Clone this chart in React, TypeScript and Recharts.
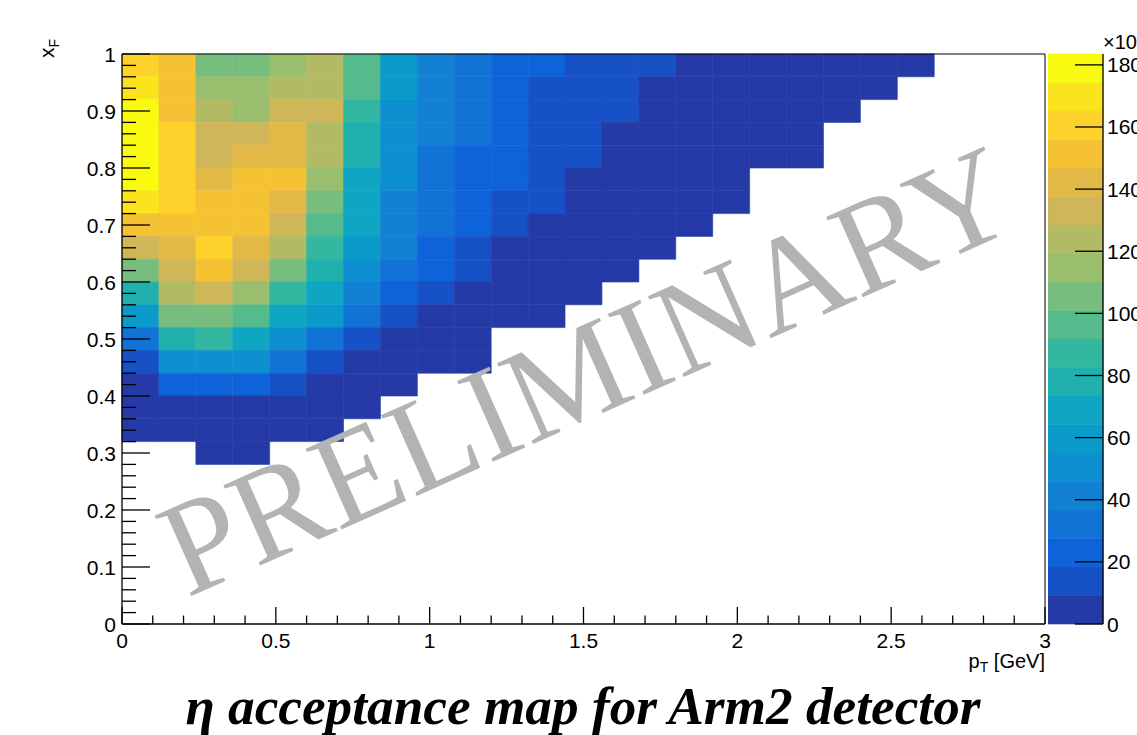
import React from 'react';
import { ComposedChart, XAxis, YAxis, ReferenceArea, ReferenceLine } from 'recharts';

// ---------- binning (pT 0..3 GeV in 25 bins, xF 0..1 in 25 bins) ----------
const ptBinLow = [0, 0.12, 0.24, 0.36, 0.48, 0.6, 0.72, 0.84, 0.96, 1.08, 1.2, 1.32, 1.44, 1.56, 1.68, 1.8, 1.92, 2.04, 2.16, 2.28, 2.4, 2.52, 2.64, 2.76, 2.88];
const PT_BIN_WIDTH = 0.12;
const XF_BIN_WIDTH = 0.04;

// ---------- cell contents (x10^3), one array per xF bin, index = pT bin ----------
const xf096 = [161, 151, 106, 106, 115, 124, 96, 60, 41, 32, 23, 23, 14, 14, 14, 8, 7, 6, 5, 4, 3, 2];
const xf092 = [170, 151, 115, 115, 124, 124, 96, 60, 41, 32, 23, 14, 14, 14, 8, 7, 6, 5, 4, 3, 2];
const xf088 = [180, 151, 124, 115, 133, 133, 87, 50, 41, 32, 23, 14, 14, 14, 8, 7, 6, 5, 4, 2];
const xf084 = [183.5, 161, 133, 133, 142, 124, 78, 50, 41, 32, 23, 14, 14, 8, 7, 6, 5, 4, 2];
const xf080 = [179, 161, 133, 142, 142, 124, 78, 50, 32, 23, 23, 14, 14, 8, 7, 6, 5, 3, 2];
const xf076 = [179, 161, 142, 151, 151, 115, 69, 50, 32, 23, 23, 14, 8, 7, 6, 4, 2];
const xf072 = [170, 161, 151, 151, 142, 106, 69, 41, 32, 23, 14, 14, 8, 7, 5, 4, 2];
const xf068 = [151, 151, 151, 151, 133, 96, 69, 41, 32, 23, 14, 8, 7, 6, 4, 2];
const xf064 = [133, 142, 161, 142, 124, 87, 60, 41, 23, 14, 8, 7, 6, 4, 2];
const xf060 = [106, 133, 151, 133, 106, 78, 50, 32, 23, 14, 8, 6, 4, 2];
const xf056 = [78, 124, 133, 115, 87, 69, 41, 23, 14, 8, 6, 4, 2];
const xf052 = [60, 106, 106, 96, 69, 60, 32, 14, 8, 6, 4, 2];
const xf048 = [32, 78, 87, 69, 50, 32, 14, 8, 5, 3];
const xf044 = [14, 50, 50, 50, 32, 14, 8, 6, 4, 2];
const xf040 = [8, 23, 23, 23, 14, 7, 5, 3];
const xf036 = [6, 8, 8, 8, 7, 5, 3];
const xf032 = [3, 5, 6, 6, 4, 2];
const xf028 = [null, null, 2, 2];

const xfRows: { xf: number; values: (number | null)[] }[] = [
  { xf: 0.96, values: xf096 }, { xf: 0.92, values: xf092 }, { xf: 0.88, values: xf088 },
  { xf: 0.84, values: xf084 }, { xf: 0.8, values: xf080 }, { xf: 0.76, values: xf076 },
  { xf: 0.72, values: xf072 }, { xf: 0.68, values: xf068 }, { xf: 0.64, values: xf064 },
  { xf: 0.6, values: xf060 }, { xf: 0.56, values: xf056 }, { xf: 0.52, values: xf052 },
  { xf: 0.48, values: xf048 }, { xf: 0.44, values: xf044 }, { xf: 0.4, values: xf040 },
  { xf: 0.36, values: xf036 }, { xf: 0.32, values: xf032 }, { xf: 0.28, values: xf028 },
];

// ---------- colour scale ----------
const Z_MAX = 183.5;
const N_LEVELS = 20;
const palette = [
  '#253aa6', '#1651c6', '#0f63d9', '#1273d6', '#1381d3', '#0e8fd0', '#0a9bcb', '#0ea6c3', '#20b0ae', '#33b7a0',
  '#55bb8c', '#77bd7e', '#98be6e', '#b3ba64', '#cfb759', '#e2b947', '#f5c233', '#fdd22a', '#fbe31e', '#f8fa0f',
];
const colorTicks = [0, 20, 40, 60, 80, 100, 120, 140, 160, 180];

// ---------- axis ticks ----------
const xMajorTicks = [0, 0.5, 1, 1.5, 2, 2.5, 3];
const yMajorTicks = [0, 0.1, 0.2, 0.3, 0.4, 0.5, 0.6, 0.7, 0.8, 0.9, 1];
const xAllTicks = Array.from({ length: 31 }, (_, i) => i / 10);
const yAllTicks = Array.from({ length: 51 }, (_, i) => i / 50);

const FONT = '"Liberation Sans", Arial, Helvetica, sans-serif';
const LABEL_SIZE = 21;

const levelOf = (v: number) => Math.min(N_LEVELS - 1, Math.floor((v / Z_MAX) * N_LEVELS));
const isMajor = (v: number, list: number[]) => list.some((m) => Math.abs(m - v) < 1e-9);

const cells: { x1: number; x2: number; y1: number; y2: number; v: number }[] = [];
xfRows.forEach((row) => {
  row.values.forEach((v, i) => {
    if (v == null) return;
    cells.push({ x1: ptBinLow[i], x2: ptBinLow[i] + PT_BIN_WIDTH, y1: row.xf, y2: row.xf + XF_BIN_WIDTH, v });
  });
});

const XTick = (props: any) => {
  const { x, y, payload } = props;
  const v = payload.value as number;
  const major = isMajor(v, xMajorTicks);
  return (
    <g>
      <line x1={x} x2={x} y1={y} y2={y - (major ? 17 : 8.5)} stroke="#000" strokeWidth={1.3} />
      {major && (
        <text x={x} y={y + 24} textAnchor="middle" fontSize={LABEL_SIZE} fontFamily={FONT} fill="#000">
          {String(v)}
        </text>
      )}
    </g>
  );
};

const YTick = (props: any) => {
  const { x, y, payload } = props;
  const v = payload.value as number;
  const major = isMajor(v, yMajorTicks);
  return (
    <g>
      <line x1={x} x2={x + (major ? 28 : 14)} y1={y} y2={y} stroke="#000" strokeWidth={1.3} />
      {major && (
        <text x={x - 6} y={y + 7.5} textAnchor="end" fontSize={LABEL_SIZE} fontFamily={FONT} fill="#000">
          {String(v)}
        </text>
      )}
    </g>
  );
};

const ZTick = (props: any) => {
  const { x, y, payload } = props;
  const v = payload.value as number;
  return (
    <g>
      <line x1={x - 28} x2={x} y1={y} y2={y} stroke="#000" strokeWidth={1.3} />
      <text x={x + 4} y={y + 7.5} textAnchor="start" fontSize={LABEL_SIZE} fontFamily={FONT} fill="#000">
        {String(v)}
      </text>
    </g>
  );
};

const levels = Array.from({ length: N_LEVELS }, (_, i) => i);

export default function App() {
  return (
    <div style={{ position: 'absolute', left: 0, top: 0, width: 1137, height: 735, overflow: 'hidden', background: '#fff' }}>
      <div style={{ position: 'absolute', left: 0, top: 0 }}>
        <ComposedChart width={1137} height={735} margin={{ top: 54, right: 92, bottom: 0, left: 0 }} data={[]}>
          <XAxis
            type="number"
            dataKey="x"
            domain={[0, 3]}
            allowDataOverflow
            ticks={xAllTicks}
            interval={0}
            tickSize={0}
            tickMargin={0}
            height={111}
            tick={<XTick />}
            axisLine={{ stroke: '#000', strokeWidth: 1.3 }}
            tickLine={false}
          />
          <YAxis
            type="number"
            dataKey="y"
            domain={[0, 1]}
            allowDataOverflow
            ticks={yAllTicks}
            interval={0}
            tickSize={0}
            tickMargin={0}
            width={122}
            tick={<YTick />}
            axisLine={{ stroke: '#000', strokeWidth: 1.3 }}
            tickLine={false}
          />
          {cells.map((c, i) => (
            <ReferenceArea
              key={i}
              x1={c.x1}
              x2={c.x2}
              y1={c.y1}
              y2={c.y2}
              fill={palette[levelOf(c.v)]}
              fillOpacity={1}
              stroke={palette[levelOf(c.v)]}
              strokeWidth={0.6}
              ifOverflow="visible"
            />
          ))}
          <ReferenceLine y={1} stroke="#000" strokeWidth={1} ifOverflow="visible" />
          <ReferenceLine x={3} stroke="#000" strokeWidth={1} ifOverflow="visible" />
        </ComposedChart>
      </div>
      <div style={{ position: 'absolute', left: 1048, top: 0 }}>
        <ComposedChart width={89} height={735} margin={{ top: 54, right: 0, bottom: 111, left: 0 }} data={[]}>
          <XAxis type="number" dataKey="x" domain={[0, 1]} hide allowDataOverflow />
          <YAxis
            type="number"
            dataKey="z"
            orientation="right"
            domain={[0, Z_MAX]}
            allowDataOverflow
            ticks={colorTicks}
            interval={0}
            tickSize={0}
            tickMargin={0}
            width={34}
            tick={<ZTick />}
            axisLine={{ stroke: '#000', strokeWidth: 1.3 }}
            tickLine={false}
          />
          {levels.map((l) => (
            <ReferenceArea
              key={l}
              x1={0}
              x2={1}
              y1={(l * Z_MAX) / N_LEVELS}
              y2={((l + 1) * Z_MAX) / N_LEVELS}
              fill={palette[l]}
              fillOpacity={1}
              stroke={palette[l]}
              strokeWidth={0.6}
              ifOverflow="visible"
            />
          ))}
        </ComposedChart>
      </div>
      <svg width={1137} height={735} style={{ position: 'absolute', left: 0, top: 0, pointerEvents: 'none' }}>
        <text
          x={605}
          y={412}
          transform="rotate(-24 605 412)"
          textAnchor="middle"
          fontFamily='"Liberation Serif", "Times New Roman", serif'
          fontSize={135}
          fill="#b3b3b3"
          textLength={915}
          lengthAdjust="spacingAndGlyphs"
        >
          PRELIMINARY
        </text>
        <text x={54} y={58} transform="rotate(-90 54 58)" textAnchor="start" fontSize={21} fontFamily={FONT} fill="#000">
          x<tspan fontSize={14} dy={5}>F</tspan>
        </text>
        <text x={1045} y={668} textAnchor="end" fontSize={20} fontFamily={FONT} fill="#000">
          p<tspan fontSize={14} dy={4}>T</tspan>
          <tspan dy={-4}> [GeV]</tspan>
        </text>
        <text x={1103} y={49} textAnchor="start" fontSize={20} fontFamily={FONT} fill="#000">
          ×10<tspan fontSize={14} dy={-8}>3</tspan>
        </text>
        <text
          x={583}
          y={724}
          textAnchor="middle"
          fontFamily='"Liberation Serif", "Times New Roman", serif'
          fontWeight="bold"
          fontStyle="italic"
          fontSize={52}
          fill="#000"
          textLength={795}
          lengthAdjust="spacingAndGlyphs"
        >
          η acceptance map for Arm2 detector
        </text>
      </svg>
    </div>
  );
}
